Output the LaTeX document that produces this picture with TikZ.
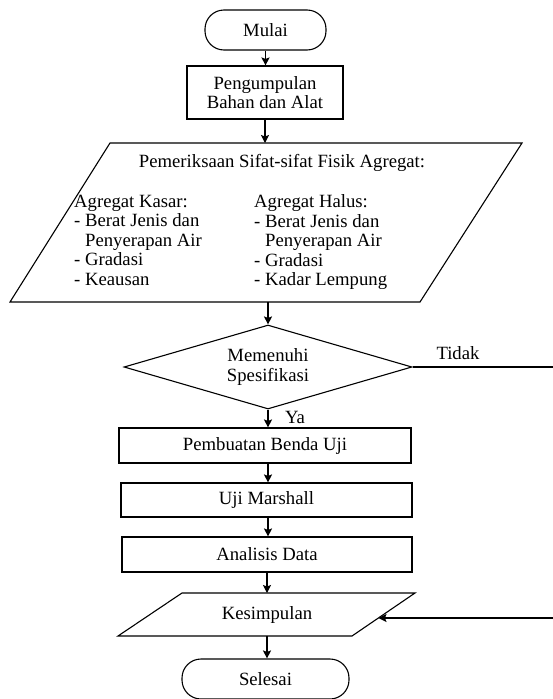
\documentclass[tikz,border=0pt]{standalone}
\usepackage{fontspec}
\setmainfont{Liberation Serif}
\usetikzlibrary{shapes.geometric,arrows.meta}
\begin{document}
\begin{tikzpicture}[x=1pt,y=-1pt,
  every node/.style={font=\fontsize{18.7}{19.5}\selectfont, inner sep=0pt},
  box/.style={draw, line width=1.1pt, rectangle},
  term/.style={draw, line width=1.1pt, rectangle, rounded corners=19pt},
  decision/.style={draw, line width=1.1pt, diamond, aspect=3.4, minimum width=288pt, minimum height=84pt},
  shape line/.style={line width=1.1pt, line join=miter},
  arr/.style={line width=1.1pt, -{Stealth[length=8pt,width=8pt,inset=1.5pt]}},
  conn/.style={line width=1.1pt}]
\useasboundingbox (0,0) rectangle (553,699);

% terminals and boxes
\node[term, minimum width=121pt, minimum height=40pt] (mulai) at (265.5,30) {Mulai};
\node[box, minimum width=156pt, minimum height=53pt, align=center] (kumpul) at (265,92.5) {Pengumpulan\\Bahan dan Alat};

% big parallelogram
\draw[shape line] (110,143) -- (522,143) -- (420,302) -- (10,302) -- cycle;
\coordinate (pTop) at (265,143);
\coordinate (pBot) at (268,302);
\node (ptitle) at (282,163) {Pemeriksaan Sifat-sifat Fisik Agregat:};
\node[anchor=north west, align=left] (kasar) at (74,194.5)
  {Agregat Kasar:\\- Berat Jenis dan\\\phantom{- }Penyerapan Air\\- Gradasi\\- Keausan};
\node[anchor=north west, align=left] (halus) at (254,194.5)
  {Agregat Halus:\\- Berat Jenis dan\\\phantom{- }Penyerapan Air\\- Gradasi\\- Kadar Lempung};

% decision
\node[decision, align=center] (spek) at (268,367) {Memenuhi\\Spesifikasi};

\node[box, minimum width=292pt, minimum height=35pt] (benda) at (265,445.5) {Pembuatan Benda Uji};
\node[box, minimum width=291pt, minimum height=34pt] (marshall) at (266.5,500) {Uji Marshall};
\node[box, minimum width=290pt, minimum height=35pt] (analisis) at (267,554.5) {Analisis Data};

% Kesimpulan parallelogram
\draw[shape line] (182,593) -- (415,593) -- (352,636) -- (118,636) -- cycle;
\coordinate (kTop) at (267,593);
\coordinate (kBot) at (267,636);
\coordinate (kRight) at (378.5,618);
\node (kes) at (267,615) {Kesimpulan};

\node[term, minimum width=167pt, minimum height=40pt] (selesai) at (265.5,679) {Selesai};

% connectors
\draw[arr] (mulai.south) -- (mulai.south |- kumpul.north);
\draw[arr] (kumpul.south) -- (pTop);
\draw[arr] (pBot) -- (spek.north);
\draw[arr] (spek.south) -- (spek.south |- benda.north);
\draw[arr] (benda.south -| spek.south) -- (spek.south |- marshall.north);
\draw[arr] (marshall.south -| spek.south) -- (spek.south |- analisis.north);
\draw[arr] (analisis.south -| kTop) -- (kTop);
\draw[arr] (kBot) -- (kBot |- selesai.north);

\coordinate (turnA) at (556,367);
\coordinate (turnB) at (556,618);
\draw[conn] (spek.east) -- (turnA) -- (turnB);
\draw[arr] (turnB) -- (kRight);

\node (tidak) at (458,353) {Tidak};
\node (ya) at (295,417) {Ya};
\end{tikzpicture}
\end{document}
